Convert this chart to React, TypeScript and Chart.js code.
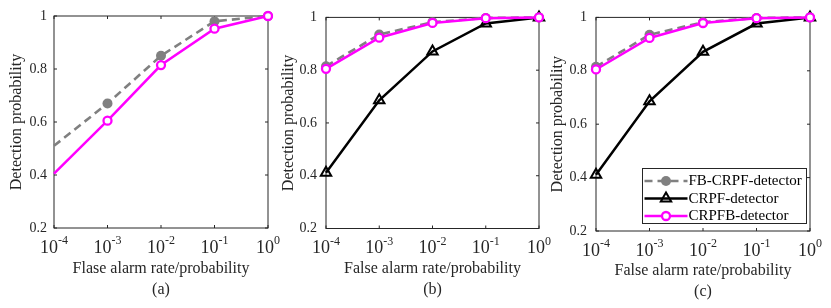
import React, { useEffect, useRef } from "react";
import { Chart, registerables } from "chart.js";

Chart.register(...registerables);

// ---------- data ----------
const xValues = [1e-4, 1e-3, 1e-2, 1e-1, 1];
const xTickExponents = [-4, -3, -2, -1, 0];
const yTickValues = [0.2, 0.4, 0.6, 0.8, 1];

// panel (a)
const aFbCrpf = [0.51, 0.67, 0.85, 0.98, 1.0];
const aCrpfb = [0.405, 0.605, 0.815, 0.952, 1.0];

// panels (b) and (c)
const bcFbCrpf = [0.815, 0.935, 0.982, 0.998, 1.0];
const bcCrpf = [0.411, 0.686, 0.871, 0.977, 1.0];
const bcCrpfb = [0.805, 0.923, 0.979, 0.997, 1.0];

const seriesNames = ["FB-CRPF-detector", "CRPF-detector", "CRPFB-detector"];
const captions = ["(a)", "(b)", "(c)"];
const xTitles = [
  "Flase alarm rate/probability",
  "False alarm rate/probability",
  "False alarm rate/probability",
];
const yTitle = "Detection probability";

// ---------- styles ----------
const FONT = "'Liberation Serif', 'Times New Roman', Times, serif";
const AXIS = "#262626";
const GRAY = "#808080";
const MAGENTA = "#ff00ff";
const BLACK = "#000000";
const H = 308;

const toPts = (ys: number[]) => xValues.map((x, i) => ({ x, y: ys[i] }));

const grayDs = (ys: number[], radii: number | number[]) => ({
  label: seriesNames[0],
  data: toPts(ys),
  borderColor: GRAY,
  borderWidth: 2.6,
  borderDash: [8, 5],
  pointStyle: "circle",
  pointRadius: radii,
  pointBackgroundColor: GRAY,
  pointBorderColor: GRAY,
  pointBorderWidth: 0,
  order: 1,
  clip: false,
  tension: 0,
  fill: false,
});
const blackDs = (ys: number[]) => ({
  label: seriesNames[1],
  data: toPts(ys),
  borderColor: BLACK,
  borderWidth: 2.5,
  pointStyle: "triangle",
  pointRadius: 6,
  pointBackgroundColor: "rgba(0,0,0,0)",
  pointBorderColor: BLACK,
  pointBorderWidth: 2,
  order: 2,
  clip: false,
  tension: 0,
  fill: false,
});
const magentaDs = (ys: number[], radii: number | number[]) => ({
  label: seriesNames[2],
  data: toPts(ys),
  borderColor: MAGENTA,
  borderWidth: 2.5,
  pointStyle: "circle",
  pointRadius: radii,
  pointBackgroundColor: "#ffffff",
  pointBorderColor: MAGENTA,
  pointBorderWidth: 2.3,
  order: 0,
  clip: false,
  tension: 0,
  fill: false,
});

type PanelCfg = {
  left: number;
  width: number;
  plot: { l: number; r: number; t: number; b: number };
  yTitlePad: number;
  yTickPad: number;
  xTitlePadBottom: number;
  xTitle: string;
  caption: string;
  legend: boolean;
  datasets: any[];
};

const panels: PanelCfg[] = [
  {
    left: 0,
    width: 290,
    plot: { l: 54, r: 268, t: 16, b: 228 },
    yTitlePad: 9,
    yTickPad: 7,
    xTitlePadBottom: 7.6,
    xTitle: xTitles[0],
    caption: captions[0],
    legend: false,
    datasets: [grayDs(aFbCrpf, [0, 5, 5, 5, 5]), magentaDs(aCrpfb, [0, 4, 4, 4, 4])],
  },
  {
    left: 280,
    width: 280,
    plot: { l: 326, r: 539, t: 17.3, b: 228.5 },
    yTitlePad: 1,
    yTickPad: 9,
    xTitlePadBottom: 7.6,
    xTitle: xTitles[1],
    caption: captions[1],
    legend: false,
    datasets: [grayDs(bcFbCrpf, 5), blackDs(bcCrpf), magentaDs(bcCrpfb, 4)],
  },
  {
    left: 550,
    width: 281,
    plot: { l: 596, r: 810, t: 17.3, b: 231 },
    yTitlePad: 0,
    yTickPad: 9,
    xTitlePadBottom: 6,
    xTitle: xTitles[2],
    caption: captions[2],
    legend: true,
    datasets: [grayDs(bcFbCrpf, 5), blackDs(bcCrpf), magentaDs(bcCrpfb, 4)],
  },
];

function drawMarker(ctx: CanvasRenderingContext2D, ds: any, x: number, y: number) {
  const r = Array.isArray(ds.pointRadius) ? ds.pointRadius[ds.pointRadius.length - 1] : ds.pointRadius;
  ctx.save();
  ctx.setLineDash([]);
  ctx.beginPath();
  if (ds.pointStyle === "triangle") {
    let rad = 0;
    ctx.moveTo(x + Math.sin(rad) * r, y - Math.cos(rad) * r);
    rad += (2 * Math.PI) / 3;
    ctx.lineTo(x + Math.sin(rad) * r, y - Math.cos(rad) * r);
    rad += (2 * Math.PI) / 3;
    ctx.lineTo(x + Math.sin(rad) * r, y - Math.cos(rad) * r);
    ctx.closePath();
  } else {
    ctx.arc(x, y, r, 0, Math.PI * 2);
  }
  ctx.fillStyle = ds.pointBackgroundColor;
  ctx.fill();
  if (ds.pointBorderWidth > 0) {
    ctx.lineWidth = ds.pointBorderWidth;
    ctx.strokeStyle = ds.pointBorderColor;
    ctx.stroke();
  }
  ctx.restore();
}

const axesPlugin = {
  id: "matlabAxes",
  beforeDatasetsDraw(chart: any) {
    const { ctx, chartArea: ca, scales } = chart;
    const xs = scales.x;
    const ys = scales.y;
    ctx.save();
    ctx.strokeStyle = AXIS;
    ctx.lineWidth = 1;
    ctx.setLineDash([]);
    ctx.strokeRect(ca.left, ca.top, ca.right - ca.left, ca.bottom - ca.top);
    const tl = 3;
    ctx.beginPath();
    xTickExponents.forEach((e) => {
      const px = xs.getPixelForValue(Math.pow(10, e));
      ctx.moveTo(px, ca.bottom);
      ctx.lineTo(px, ca.bottom - tl);
      ctx.moveTo(px, ca.top);
      ctx.lineTo(px, ca.top + tl);
    });
    yTickValues.forEach((v) => {
      const py = ys.getPixelForValue(v);
      ctx.moveTo(ca.left, py);
      ctx.lineTo(ca.left + tl, py);
      ctx.moveTo(ca.right, py);
      ctx.lineTo(ca.right - tl, py);
    });
    ctx.stroke();
    ctx.restore();
  },
  afterDraw(chart: any) {
    const { ctx, chartArea: ca, scales } = chart;
    const xs = scales.x;
    ctx.save();
    ctx.fillStyle = AXIS;
    ctx.textBaseline = "middle";
    ctx.textAlign = "left";
    const baseFont = `18px ${FONT}`;
    const supFont = `12px ${FONT}`;
    const y = ca.bottom + 20;
    xTickExponents.forEach((e) => {
      const px = xs.getPixelForValue(Math.pow(10, e));
      const base = "10";
      const sup = String(e);
      ctx.font = baseFont;
      const wb = ctx.measureText(base).width;
      ctx.font = supFont;
      const wsu = ctx.measureText(sup).width;
      const x0 = px - (wb + wsu) / 2;
      ctx.font = baseFont;
      ctx.fillText(base, x0, y);
      ctx.font = supFont;
      ctx.fillText(sup, x0 + wb, y - 7);
    });
    ctx.restore();
  },
};

const legendPlugin = {
  id: "matlabLegend",
  afterDatasetsDraw(chart: any) {
    const { ctx, chartArea: ca } = chart;
    const w = 164;
    const h = 55;
    const right = ca.right - 4;
    const bottom = ca.bottom - 8;
    const left = Math.round(right - w) + 0.5;
    const top = Math.round(bottom - h) + 0.5;
    ctx.save();
    ctx.fillStyle = "#ffffff";
    ctx.fillRect(left, top, w, h);
    ctx.strokeStyle = AXIS;
    ctx.lineWidth = 1;
    ctx.strokeRect(left, top, w, h);
    const rows = [12.5, 30, 47.5];
    const dsets = chart.config.data.datasets;
    dsets.forEach((ds: any, i: number) => {
      const y = top + rows[i];
      ctx.save();
      ctx.strokeStyle = ds.borderColor;
      ctx.lineWidth = ds.borderWidth;
      ctx.setLineDash(ds.borderDash || []);
      ctx.beginPath();
      ctx.moveTo(left + 2, y);
      ctx.lineTo(left + 45, y);
      ctx.stroke();
      ctx.restore();
      drawMarker(ctx, ds, left + 23.5, y);
      ctx.fillStyle = "#000000";
      ctx.font = `15px ${FONT}`;
      ctx.textBaseline = "middle";
      ctx.textAlign = "left";
      ctx.fillText(ds.label, left + 46, y + 0.5);
    });
    ctx.restore();
  },
};

function Panel({ cfg }: { cfg: PanelCfg }) {
  const ref = useRef<HTMLCanvasElement | null>(null);
  useEffect(() => {
    const canvas = ref.current;
    if (!canvas) return;
    const p = cfg.plot;
    const yWidth = p.l - cfg.left;
    const xHeight = H - p.b;
    const chart = new Chart(canvas, {
      type: "line",
      data: { datasets: cfg.datasets },
      plugins: cfg.legend ? [axesPlugin, legendPlugin] : [axesPlugin],
      options: {
        responsive: false,
        animation: false,
        events: [],
        devicePixelRatio: 1,
        layout: {
          padding: { left: 0, top: p.t, right: cfg.left + cfg.width - p.r, bottom: 0 },
        },
        plugins: {
          legend: { display: false },
          tooltip: { enabled: false },
          title: { display: false },
        },
        scales: {
          x: {
            type: "logarithmic",
            min: 1e-4,
            max: 1,
            grid: { display: false, drawTicks: false },
            border: { display: false },
            ticks: { display: false },
            title: {
              display: true,
              text: [cfg.xTitle, cfg.caption],
              color: AXIS,
              font: { family: FONT, size: 16, lineHeight: 1.3 },
              padding: { top: 0, bottom: cfg.xTitlePadBottom },
            },
            afterFit: (s: any) => {
              s.height = xHeight;
            },
          },
          y: {
            type: "linear",
            min: 0.2,
            max: 1,
            grid: { display: false, drawTicks: false },
            border: { display: false },
            afterBuildTicks: (s: any) => {
              s.ticks = yTickValues.map((v) => ({ value: v }));
            },
            ticks: {
              color: AXIS,
              padding: cfg.yTickPad,
              font: { family: FONT, size: 14 },
              callback: (v: any) => String(Number(Number(v).toFixed(1))),
            },
            title: {
              display: true,
              text: yTitle,
              color: AXIS,
              font: { family: FONT, size: 16, lineHeight: 1.0 },
              padding: { top: cfg.yTitlePad, bottom: 0 },
            },
            afterFit: (s: any) => {
              s.width = yWidth;
            },
          },
        },
      } as any,
    });
    return () => chart.destroy();
  }, [cfg]);
  return (
    <canvas
      ref={ref}
      width={cfg.width}
      height={H}
      style={{ position: "absolute", left: cfg.left, top: 0, width: cfg.width, height: H, display: "block" }}
    />
  );
}

export default function App() {
  return (
    <div
      style={{
        position: "fixed",
        left: 0,
        top: 0,
        width: 831,
        height: H,
        background: "#ffffff",
        overflow: "hidden",
      }}
    >
      {panels.map((cfg, i) => (
        <Panel key={i} cfg={cfg} />
      ))}
    </div>
  );
}
